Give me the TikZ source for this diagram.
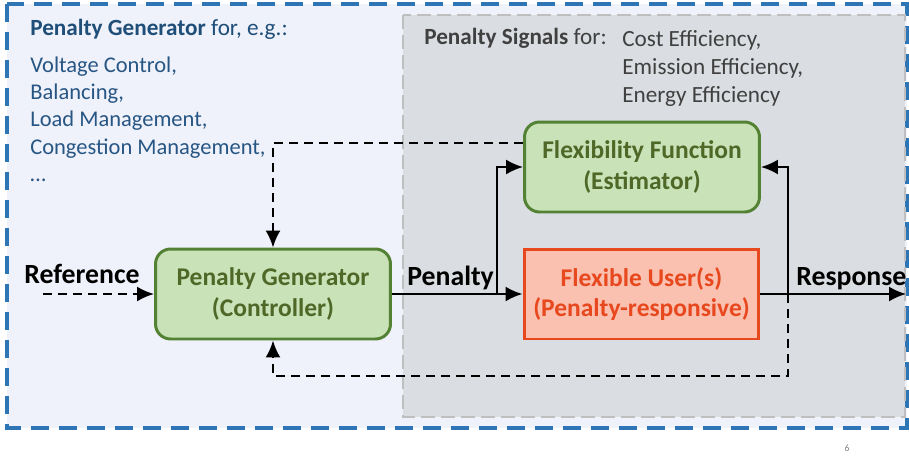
\documentclass[tikz,border=0pt]{standalone}
\usepackage{fontspec}
\setmainfont{Carlito}
\usetikzlibrary{arrows.meta,positioning}

\definecolor{frameblue}{RGB}{46,117,182}
\definecolor{paleblue}{RGB}{239,242,250}
\definecolor{areagray}{RGB}{218,221,225}
\definecolor{bordergray}{RGB}{191,191,191}
\definecolor{boxgreen}{RGB}{84,130,53}
\definecolor{palegreen}{RGB}{201,226,183}
\definecolor{textgreen}{RGB}{79,104,40}
\definecolor{boxred}{RGB}{232,72,30}
\definecolor{palered}{RGB}{250,192,176}
\definecolor{titleblue}{RGB}{31,78,121}
\definecolor{listblue}{RGB}{40,86,132}
\definecolor{signalgray}{RGB}{64,64,64}

\tikzset{
  genbox/.style={draw=boxgreen, fill=palegreen, line width=1.7pt, rounded corners=0.3cm,
    minimum width=4.7cm, minimum height=1.8cm, align=center, text=textgreen,
    font=\fontsize{14.5}{17.5}\selectfont\bfseries},
  userbox/.style={genbox, draw=boxred, fill=palered, text=boxred, rounded corners=0pt},
  sig/.style={line width=1.2pt, -{Latex[length=0.34cm,width=0.3cm]}},
  fb/.style={sig, dash pattern=on 0.18cm off 0.12cm},
  lbl/.style={anchor=base west, inner sep=0pt, font=\fontsize{15.8}{19}\selectfont\bfseries},
  txt/.style={anchor=base west, inner sep=0pt, font=\fontsize{13.2}{16}\selectfont}
}

\begin{document}
\begin{tikzpicture}[x=0.02cm, y=-0.02cm]
    \useasboundingbox (0,0) rectangle (909,457);

    % Draw Frames
    \draw[frameblue, fill=paleblue, line width=2pt, dash pattern=on 0.36cm off 0.2cm] (7,4) rectangle (907,428);
    \draw[bordergray, fill=areagray, line width=1.5pt, dash pattern=on 0.28cm off 0.12cm] (403,15) rectangle (905,417);

    % Draw Texts
    \node[txt, text=titleblue] (gentitle) at (30,35) {\textbf{Penalty Generator} for, e.g.:};
    \foreach \item [count=\i] in {{Voltage Control,}, {Balancing,}, {Load Management,}, {Congestion Management,}, {\dots}}{
      \node[txt, text=listblue, font=\fontsize{12.8}{15}\selectfont] (gen-\i) at (30, 45+27.3*\i) {\item};
    }
    \node[txt, text=signalgray] (sigtitle) at (424,44) {\textbf{Penalty Signals} for:};
    \foreach \item [count=\i] in {{Cost Efficiency,}, {Emission Efficiency,}, {Energy Efficiency}}{
      \node[txt, text=signalgray] (sig-\i) at (622, 18+28*\i) {\item};
    }
    \node[anchor=base, inner sep=0pt, text=gray, font=\fontsize{5.5}{6}\selectfont] (page) at (847,451) {6};

    % Draw Blocks
    \node[genbox] (ff) at (642,167) {Flexibility Function\\(Estimator)};
    \node[genbox] (pg) at (273,294) {Penalty Generator\\(Controller)};
    \node[userbox] (fu) at (641.5,294) {Flexible User(s)\\(Penalty-responsive)};

    % Draw Signals
    \coordinate (refin) at (43,294);
    \coordinate (respout) at (906,294);
    \coordinate (pbr) at (497,294);
    \coordinate (rbr) at (788,294);
    \coordinate (loop) at (788,376);
    \node[lbl] (reflbl) at (24,283) {Reference};
    \node[lbl] (penlbl) at (407,285) {Penalty};
    \node[lbl] (resplbl) at (796,285) {Response};
    \draw[fb] (refin) -- (pg.west);
    \draw[sig] (pg.east) -- (fu.west);
    \draw[sig] (pbr) |- (ff.west);
    \draw[sig] (fu.east) -- (respout);
    \draw[sig] (rbr) |- (ff.east);
    \draw[fb] ([yshift=0.48cm]ff.west) -| (pg.north);   % estimate back to controller
    \draw[fb] (rbr) -- (loop) -| (pg.south);             % measured response
\end{tikzpicture}
\end{document}
